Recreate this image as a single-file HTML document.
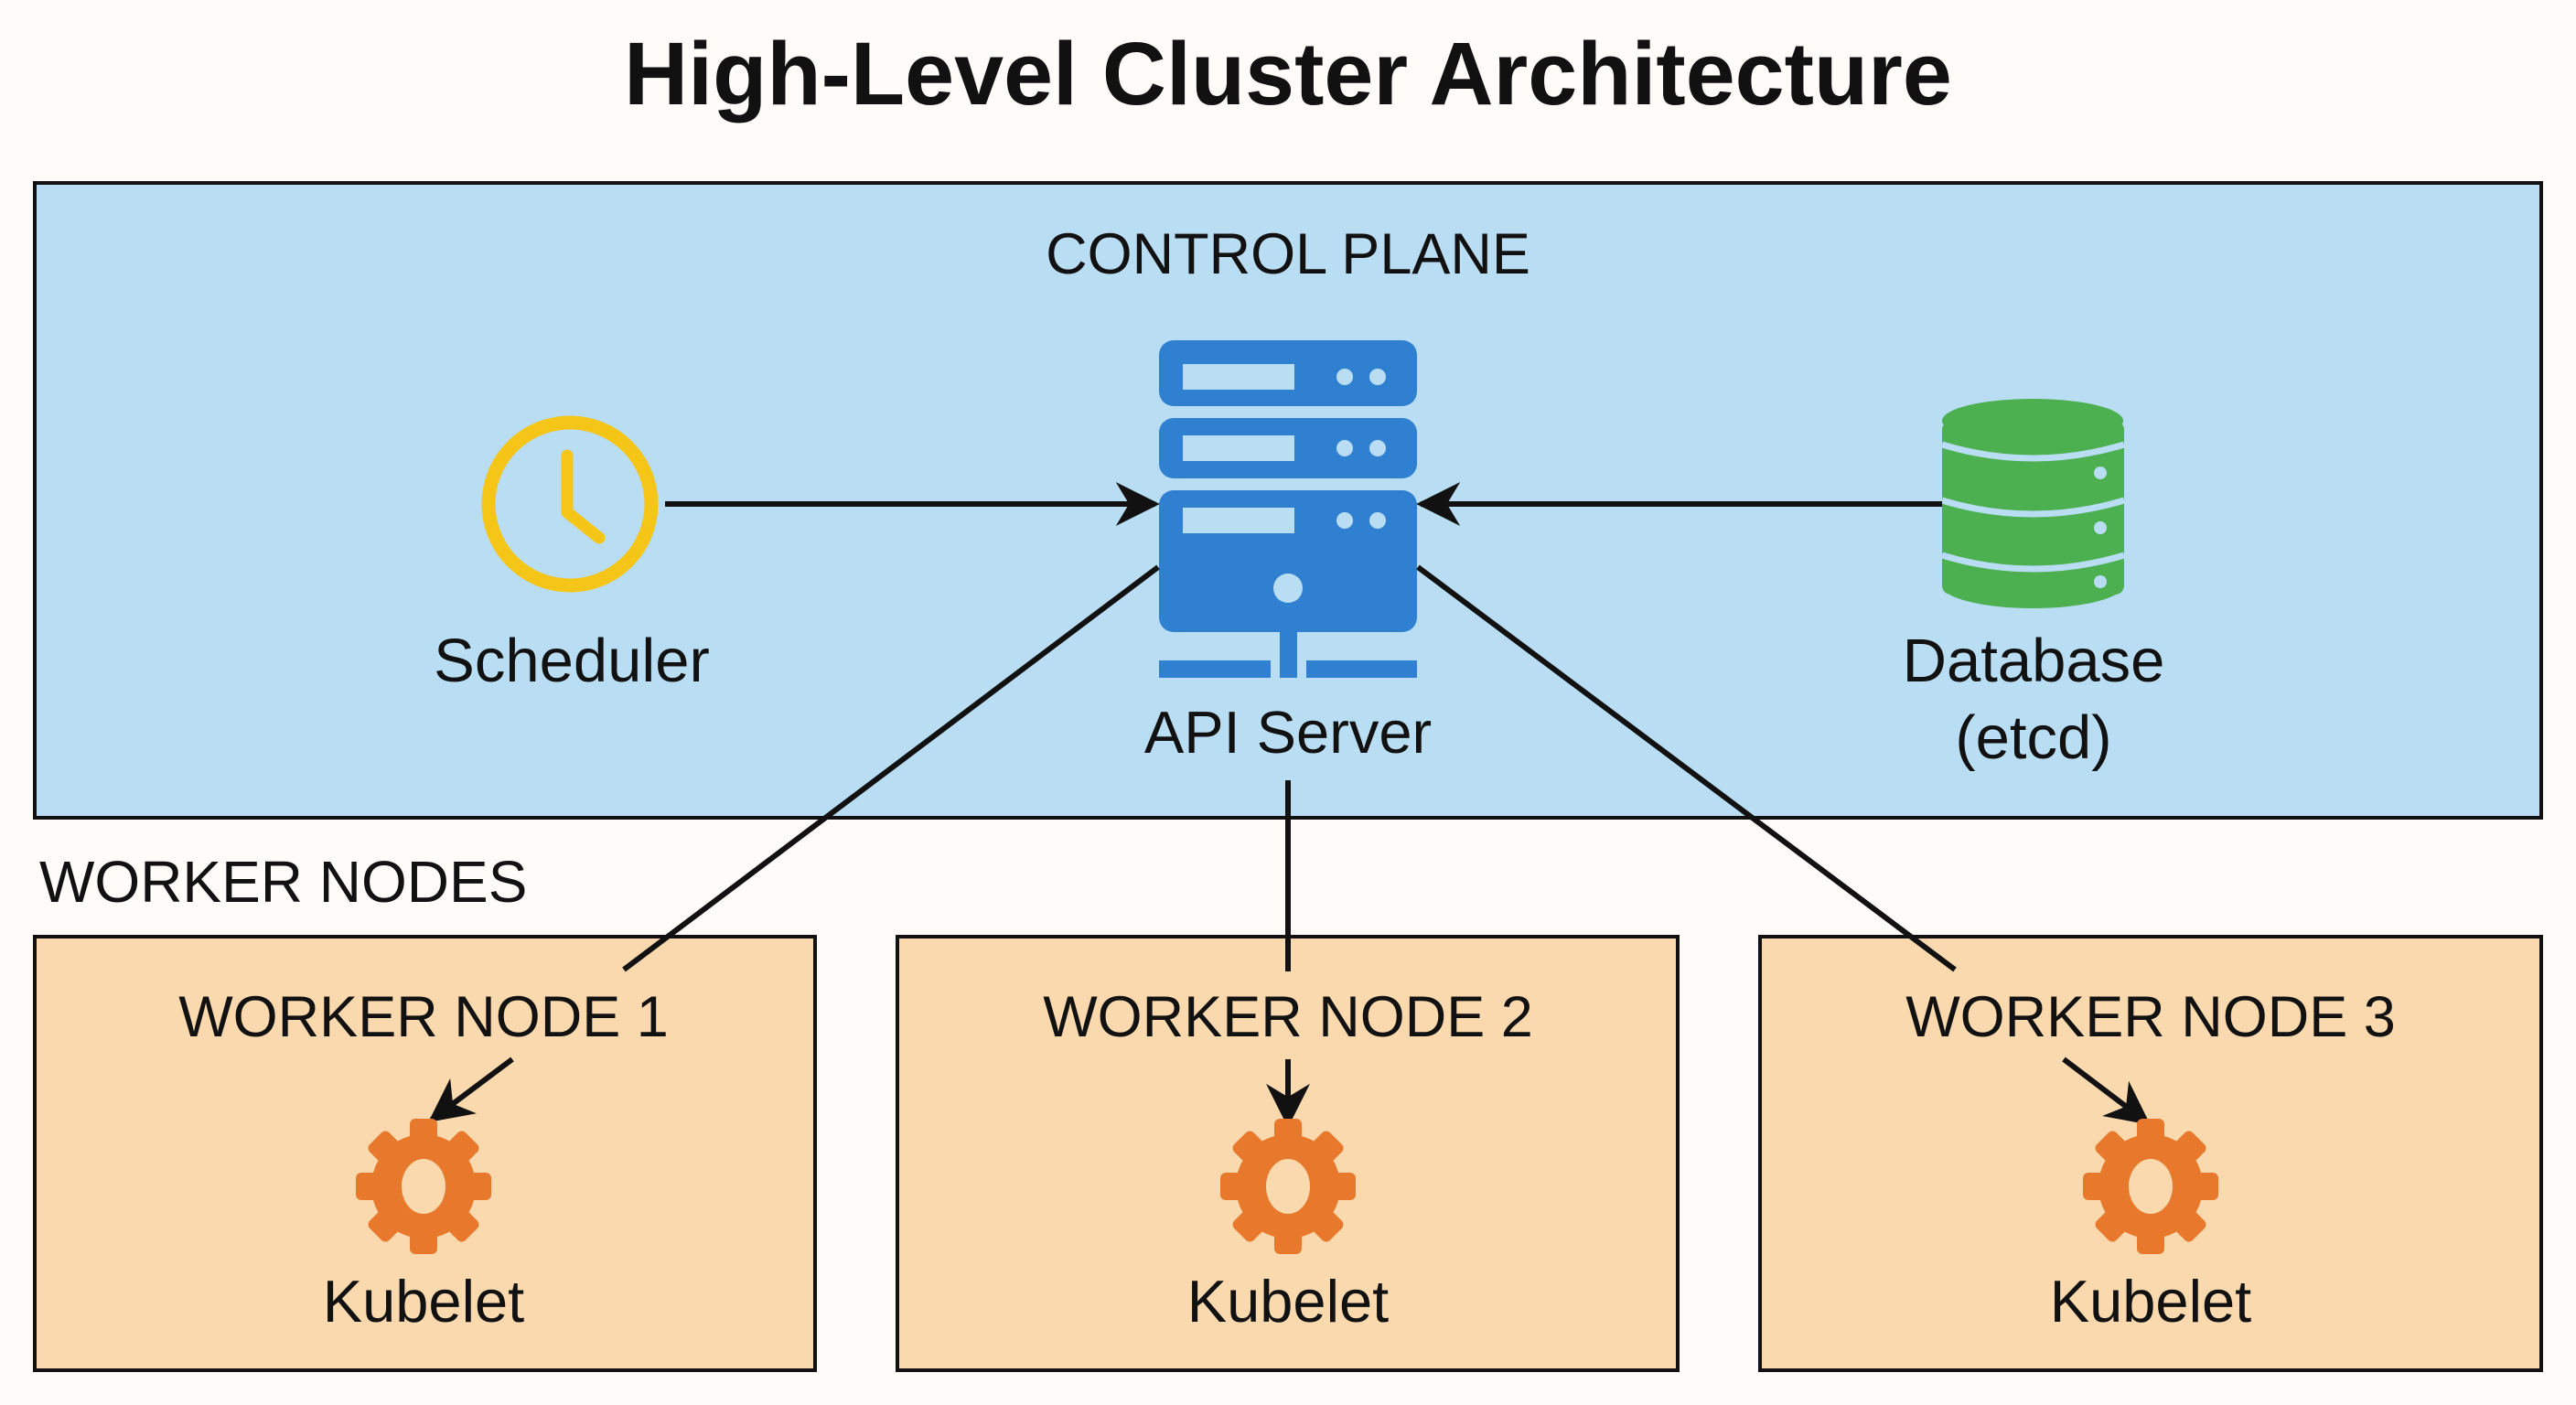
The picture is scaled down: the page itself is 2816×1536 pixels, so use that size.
<!DOCTYPE html>
<html><head><meta charset="utf-8"><style>
html,body{margin:0;padding:0;background:#fdfcf8;}
svg{display:block}
text{font-family:"Liberation Sans",sans-serif;fill:#111}
</style></head><body>
<svg width="2816" height="1536" viewBox="0 0 2816 1536" xmlns="http://www.w3.org/2000/svg">
<defs>
<marker id="ah" viewBox="0 0 10 10" refX="9" refY="5" markerWidth="8" markerHeight="8" orient="auto" markerUnits="strokeWidth">
<path d="M0,0 L10,5 L0,10 L3,5 z" fill="#111"/></marker>
<g id="gear">
<g fill="#E8792C">
<rect x="-15" y="-74" width="30" height="148" rx="6"/>
<rect x="-15" y="-74" width="30" height="148" rx="6" transform="rotate(45)"/>
<rect x="-15" y="-74" width="30" height="148" rx="6" transform="rotate(90)"/>
<rect x="-15" y="-74" width="30" height="148" rx="6" transform="rotate(135)"/>
<circle r="57"/>
</g>
<ellipse rx="24" ry="30" fill="#FAD9AE"/>
</g>
</defs>
<text x="1408" y="114" font-size="97" font-weight="bold" text-anchor="middle">High-Level Cluster Architecture</text>

<rect x="38" y="200" width="2740" height="694" fill="#B9DDF3" stroke="#111" stroke-width="4"/>
<text x="1408" y="299" font-size="63" text-anchor="middle">CONTROL PLANE</text>

<g fill="#2F80D1">
<rect x="1267" y="372" width="282" height="72" rx="16"/>
<rect x="1267" y="457" width="282" height="66" rx="16"/>
<rect x="1267" y="536" width="282" height="155" rx="16"/>
<rect x="1399" y="688" width="19" height="53"/>
<rect x="1267" y="722" width="122" height="19"/>
<rect x="1428" y="722" width="121" height="19"/>
</g>
<g fill="#B9DDF3">
<rect x="1293" y="398" width="122" height="28"/>
<rect x="1293" y="476" width="122" height="28"/>
<rect x="1293" y="555" width="122" height="28"/>
<circle cx="1470" cy="412" r="9"/><circle cx="1506" cy="412" r="9"/>
<circle cx="1470" cy="490" r="9"/><circle cx="1506" cy="490" r="9"/>
<circle cx="1470" cy="569" r="9"/><circle cx="1506" cy="569" r="9"/>
<circle cx="1408" cy="643" r="16"/>
</g>
<text x="1408" y="823" font-size="65" text-anchor="middle">API Server</text>

<circle cx="623" cy="551" r="89" fill="none" stroke="#F5C518" stroke-width="15"/>
<path d="M620,498 L620,560 L655,588" fill="none" stroke="#F5C518" stroke-width="13" stroke-linecap="round" stroke-linejoin="round"/>
<text x="625" y="745" font-size="67" text-anchor="middle">Scheduler</text>

<g fill="#4CAF50">
<rect x="2123" y="460" width="199" height="190" rx="10"/>
<ellipse cx="2222" cy="460" rx="99" ry="24"/>
<ellipse cx="2222" cy="640" rx="99" ry="25"/>
</g>
<g fill="none" stroke="#B9DDF3" stroke-width="7">
<path d="M2123,486 Q2222,516 2322,486"/>
<path d="M2123,547 Q2222,577 2322,547"/>
<path d="M2123,607 Q2222,637 2322,607"/>
</g>
<g fill="#B9DDF3"><circle cx="2296" cy="517" r="7"/><circle cx="2296" cy="577" r="7"/><circle cx="2296" cy="636" r="7"/></g>
<text x="2223" y="745" font-size="67" text-anchor="middle">Database</text>
<text x="2223" y="829" font-size="67" text-anchor="middle">(etcd)</text>

<text x="43" y="986" font-size="64">WORKER NODES</text>

<g fill="#FAD9AE" stroke="#111" stroke-width="4">
<rect x="38" y="1024" width="853" height="474"/>
<rect x="981" y="1024" width="853" height="474"/>
<rect x="1924" y="1024" width="854" height="474"/>
</g>

<g stroke="#111" stroke-width="6" fill="none">
<line x1="727" y1="551" x2="1263" y2="551" marker-end="url(#ah)"/>
<line x1="2123" y1="551" x2="1553" y2="551" marker-end="url(#ah)"/>
<line x1="1266" y1="620" x2="682" y2="1060"/>
<line x1="1408" y1="853" x2="1408" y2="1062"/>
<line x1="1550" y1="620" x2="2137" y2="1060"/>
</g>

<g font-size="63" text-anchor="middle">
<text x="463" y="1133">WORKER NODE 1</text>
<text x="1408" y="1133">WORKER NODE 2</text>
<text x="2351" y="1133">WORKER NODE 3</text>
</g>
<g stroke="#111" stroke-width="6" fill="none">
<line x1="560" y1="1158" x2="472" y2="1224" marker-end="url(#ah)"/>
<line x1="1408" y1="1158" x2="1408" y2="1228" marker-end="url(#ah)"/>
<line x1="2256" y1="1158" x2="2347" y2="1227" marker-end="url(#ah)"/>
</g>
<use href="#gear" x="463" y="1297"/>
<use href="#gear" x="1408" y="1297"/>
<use href="#gear" x="2351" y="1297"/>
<g font-size="65" text-anchor="middle">
<text x="463" y="1445">Kubelet</text>
<text x="1408" y="1445">Kubelet</text>
<text x="2351" y="1445">Kubelet</text>
</g>
</svg>
</body></html>
